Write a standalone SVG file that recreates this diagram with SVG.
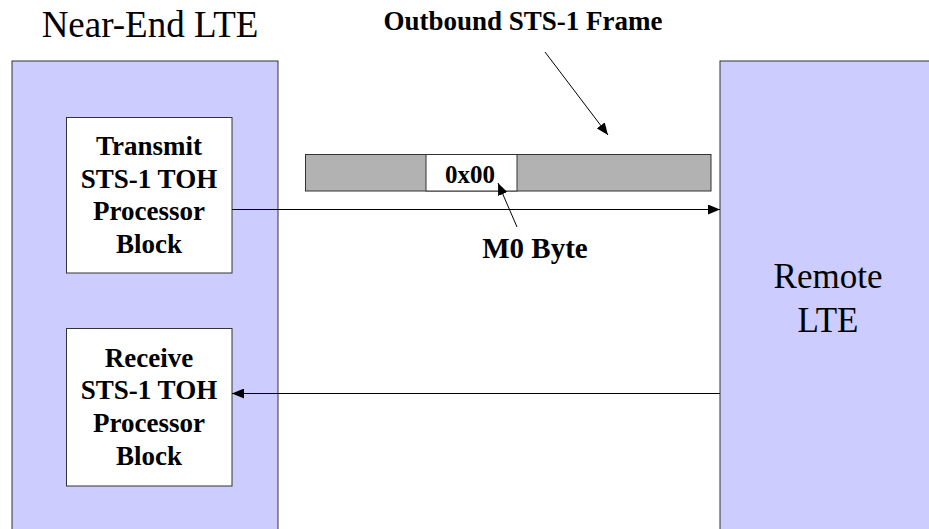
<svg xmlns="http://www.w3.org/2000/svg" width="929" height="529" viewBox="0 0 929 529">
<style>
.lte{fill:#CCCCFF;stroke:#333333;stroke-width:1}
.blk{fill:#FFFFFF;stroke:#333333;stroke-width:1}
.frm{fill:#B2B2B2;stroke:#333333;stroke-width:1}
.t{font-family:"Liberation Serif","Times New Roman",serif;fill:#000}
.b{font-weight:bold;font-size:27px;text-anchor:middle}
.big{font-size:35px;text-anchor:middle}
.ln{stroke:#000;stroke-width:1;fill:none}
</style>
<defs>
<marker id="ah" viewBox="0 0 12 10" refX="12" refY="5" markerWidth="12" markerHeight="10" markerUnits="userSpaceOnUse" orient="auto">
<path d="M0,0 L12,5 L0,10 Z" fill="#000"/>
</marker>
</defs>
<g id="near-end">
<rect class="lte" x="12" y="61" width="266" height="500"/>
<text class="t big" x="150" y="37" style="font-size:37px">Near-End LTE</text>
</g>
<g id="remote">
<rect class="lte" x="720" y="61" width="240" height="500"/>
<text class="t big" x="828" y="288">Remote</text>
<text class="t big" x="828" y="332">LTE</text>
</g>
<g id="transmit">
<rect class="blk" x="66.5" y="117.5" width="165.5" height="155.5"/>
<text class="t b" x="149" y="155">Transmit</text>
<text class="t b" x="149" y="188">STS-1 TOH</text>
<text class="t b" x="149" y="220">Processor</text>
<text class="t b" x="149" y="253">Block</text>
</g>
<g id="receive">
<rect class="blk" x="66.5" y="328.5" width="165.5" height="157.5"/>
<text class="t b" x="149" y="367">Receive</text>
<text class="t b" x="149" y="399">STS-1 TOH</text>
<text class="t b" x="149" y="432">Processor</text>
<text class="t b" x="149" y="465">Block</text>
</g>
<g id="frame">
<rect class="frm" x="305.5" y="154.5" width="405.5" height="36.5"/>
<rect class="blk" x="426" y="154.5" width="91" height="36.5"/>
<text class="t b" x="470" y="183" style="font-size:25px">0x00</text>
</g>
<g id="labels">
<text class="t b" x="523" y="30">Outbound STS-1 Frame</text>
<text class="t b" x="535" y="258" style="font-size:29px">M0 Byte</text>
</g>
<g id="connectors">
<line class="ln" x1="232" y1="209.5" x2="720" y2="209.5" marker-end="url(#ah)"/>
<line class="ln" x1="720" y1="393.5" x2="232" y2="393.5" marker-end="url(#ah)"/>
<line class="ln" x1="545" y1="52" x2="608" y2="135" marker-end="url(#ah)"/>
<line class="ln" x1="517" y1="227" x2="498" y2="183" marker-end="url(#ah)"/>
</g>
</svg>
